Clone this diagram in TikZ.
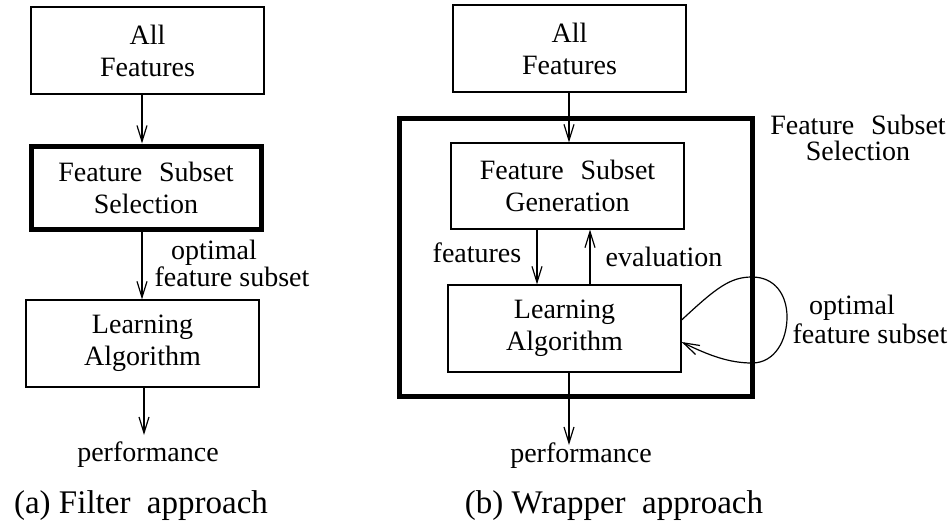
\documentclass[tikz,border=0pt]{standalone}
\usepackage{fontspec}
\setmainfont{Liberation Serif}
\usetikzlibrary{arrows.meta}
\begin{document}
\begin{tikzpicture}[x=1pt,y=-1pt,
  box/.style={draw,line width=1.2pt,minimum width=233pt,minimum height=87pt,inner sep=0pt,align=center,font=\fontsize{28}{32}\selectfont},
  thickbox/.style={box,line width=5pt},
  lbl/.style={font=\fontsize{28}{32}\selectfont,inner sep=0pt,anchor=base},
  captext/.style={font=\fontsize{33}{38}\selectfont,inner sep=0pt,anchor=base},
  arr/.style={line width=1.2pt,-{Straight Barb[length=16pt,width=10pt,line width=1.2pt]}}]
\useasboundingbox (0,0) rectangle (952,522);

% ---- (a) Filter approach ----
\node[box] (af1) at (147.5,50.5) {All\\Features};
\node[thickbox,minimum width=230pt,minimum height=83pt] (fss1) at (146,187.5) {Feature\hspace{0.6em}Subset\\Selection};
\node[box] (la1) at (142.5,343.5) {Learning\\Algorithm};
\node[lbl] (perf1) at (148,461) {performance};
\node[lbl] (opt1) at (214,259) {optimal};
\node[lbl] (fs1) at (232,286) {feature subset};
\node[captext] (capa) at (141,513) {(a) Filter\hspace{0.5em}approach};

\coordinate (cx1) at (142,0);
\coordinate (cx2) at (144,0);
\coordinate (p1end) at (144,435);
\draw[arr] (af1.south -| cx1) -- (fss1.north -| cx1);
\draw[arr] (fss1.south -| cx1) -- (la1.north -| cx1);
\draw[arr] (la1.south -| cx2) -- (p1end);

% ---- (b) Wrapper approach ----
\node[draw,line width=5pt,minimum width=353pt,minimum height=278pt,inner sep=0pt] (fssbox) at (575.5,257) {};
\node[box] (af2) at (569.5,48.5) {All\\Features};
\node[box,minimum height=86pt] (fsg) at (567.5,186) {Feature\hspace{0.6em}Subset\\Generation};
\node[box] (la2) at (564.5,328.5) {Learning\\Algorithm};
\node[lbl] (fssl1) at (858,134) {Feature\hspace{0.6em}Subset};
\node[lbl] (fssl2) at (858,160) {Selection};
\node[lbl] (opt2) at (852,314) {optimal};
\node[lbl] (fs2) at (870,343) {feature subset};
\node[lbl] (feat) at (477,262) {features};
\node[lbl] (eval) at (664,266) {evaluation};
\node[lbl] (perf2) at (581,462) {performance};
\node[captext] (capb) at (614,513) {(b) Wrapper\hspace{0.5em}approach};

\coordinate (cx3) at (569,0);
\coordinate (cx4) at (537,0);
\coordinate (cx5) at (590,0);
\coordinate (p2end) at (569,445);
\coordinate (ltop) at (752,277);
\coordinate (lright) at (787,317);
\coordinate (lbot) at (752,363);
\draw[arr] (af2.south -| cx3) -- (fsg.north -| cx3);
\draw[arr] (fsg.south -| cx4) -- (la2.north -| cx4);
\draw[arr] (la2.north -| cx5) -- (fsg.south -| cx5);
\draw[arr] (la2.south -| cx3) -- (p2end);
\draw[arr] ([yshift=8.5pt]la2.east) .. controls (716,288) and (730,277) .. (ltop)
  .. controls (775,277) and (787,295) .. (lright)
  .. controls (787,340) and (775,363) .. (lbot)
  .. controls (730,363) and (710,356) .. ([yshift=-13.5pt]la2.east);
\end{tikzpicture}
\end{document}
